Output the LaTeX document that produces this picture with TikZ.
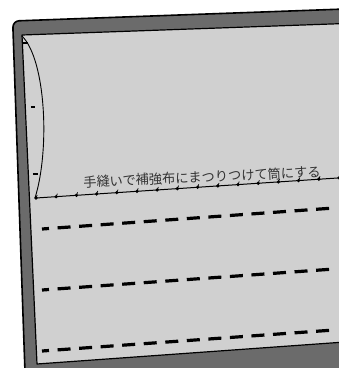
\documentclass[tikz,border=0pt]{standalone}
\usepackage{fontspec}
\newfontfamily\jpfont{Noto Sans CJK JP}
\usepackage{tikz}
\usetikzlibrary{calc}
\definecolor{boardgray}{HTML}{6B6B6B}
\definecolor{clothgray}{HTML}{D0D0D0}
\tikzset{board/.style={fill=boardgray, draw=black, line width=1.6pt, line join=round}}
\tikzset{cloth/.style={fill=clothgray, draw=black, line width=1.2pt, line join=round}}
\tikzset{seam/.style={draw=black, line width=3.2pt, dash pattern=on 13pt off 8.6pt, dash phase=6pt}}
\tikzset{stitch/.style={circle, fill=black, inner sep=0pt, minimum size=3.6pt}}

\begin{document}
\begin{tikzpicture}[x=1pt,y=-1pt]
  \useasboundingbox (0,0) rectangle (339,368);
  % board behind the cloth
  \draw[board] (25,372) -- (13,30) [rounded corners=6pt] -- (13,21) -- (345,9) -- (345,372);
  \draw[cloth] (22,35) -- (345,23.5) -- (345,342) -- (37,364) -- cycle;
  % rolled edge of the tube
  \draw[black, line width=0.9pt] (22,36) .. controls (46,60) and (50,150) .. (35,198);
  \foreach \xa/\xb/\y in {
    23/28/43,
    31/35/107,
    33/38/174%
  } {
    \draw[black, line width=2.4pt] (\xa,\y) -- (\xb,\y);
  }
  % hand-sewn seam
  \coordinate (s0) at (36,198);
  \coordinate (s1) at (345,177.5);
  \draw[black, line width=1pt] (s0) -- (s1);
  \foreach \i in {0,...,15} {
    \node[stitch] (st\i) at ($(s0)!{\i*20.2/309}!(s1)$) {};
    \draw[black, line width=0.7pt] (st\i.center) -- ++(1.2,-3);
  }
  \node[text=black!80, rotate=2.6, inner sep=0pt] (label) at (202,177)
    {\jpfont\fontsize{13.2}{13.2}\selectfont 手縫いで補強布にまつりつけて筒にする};
  % sewing lines
  \foreach \y in {0,61,122} {
    \coordinate (a) at (42,229+\y);
    \coordinate (b) at (334,208+\y);
    \draw[seam] (a) -- (b);
  }
\end{tikzpicture}
\end{document}
